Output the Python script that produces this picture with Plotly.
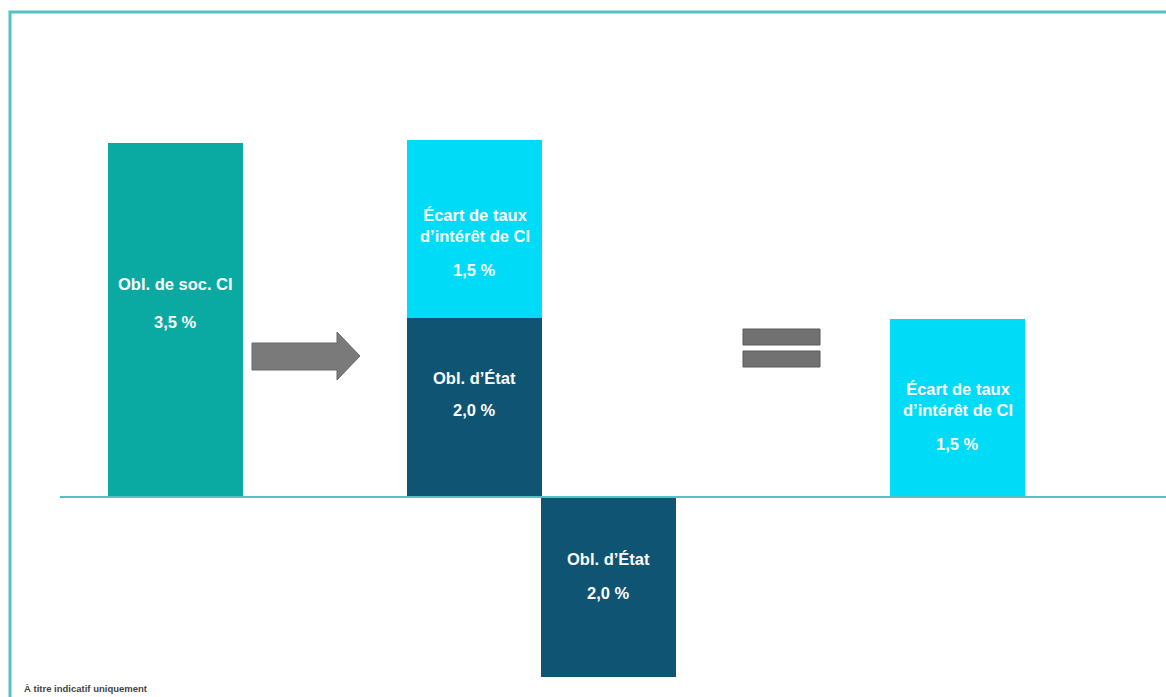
import plotly.graph_objects as go

# ---------------- data ----------------
labels_corp = ["Obl. de soc. CI"]
labels_gov = ["Obl. d’État", "Obl. d’État"]
labels_spread = ["Écart de taux<br>d’intérêt de CI", "Écart de taux<br>d’intérêt de CI"]

value_corp = [3.5]            # displayed percentages
value_gov = [2.0, 2.0]
value_spread = [1.5, 1.5]

# schematic bar heights as drawn in the picture (illustrative, not to scale)
height_corp = [3.5]
height_gov = [1.77, -1.78]
height_spread = [1.76, 1.76]

footnote = "À titre indicatif uniquement"

# ---------------- layout constants ----------------
W, H = 1166, 697
PX_X = 135.0          # px per x unit (= bar width)
PX_Y = 101.14         # px per y unit
BASE_PX = 497         # baseline pixel row
X0_PX = 175.5         # pixel column of first bar centre
XMIN = -X0_PX / PX_X
XMAX = XMIN + W / PX_X
YMAX = BASE_PX / PX_Y
YMIN = -(H - BASE_PX) / PX_Y

x_corp = [0.0]
x_gov = [2.215, 3.211]
x_spread = [2.215, 5.793]

C_TEAL = "#0aaaa2"
C_CYAN = "#00dcf8"
C_NAVY = "#0f5473"
C_GREY = "#7a7a7a"
C_FRAME = "#52c2c2"
FONT = "Liberation Sans, Arial, sans-serif"
FS = 16.5


def px(xp, yp):
    return xp / W, 1 - yp / H


def fmt(v):
    return f"{v:.1f} %".replace(".", ",")


fig = go.Figure()
fig.add_trace(go.Bar(x=x_corp, y=height_corp, base=[0], width=1,
                     marker=dict(color=C_TEAL, line=dict(width=0)), hoverinfo="skip"))
fig.add_trace(go.Bar(x=x_gov, y=height_gov, base=[0, 0], width=1,
                     marker=dict(color=C_NAVY, line=dict(width=0)), hoverinfo="skip"))
spread_base = [height_gov[0], 0]
fig.add_trace(go.Bar(x=x_spread, y=height_spread, base=spread_base, width=1,
                     marker=dict(color=C_CYAN, line=dict(width=0)), hoverinfo="skip"))

ann = []


def label(x, y_center_frac, base, height, name, value, gap):
    # place name + value inside bar
    yc = base + height * y_center_frac
    ann.append(dict(x=x, y=yc, xref="x", yref="y", text=f"<b>{name}</b>",
                    showarrow=False, font=dict(family=FONT, size=FS, color="white"),
                    xanchor="center", yanchor="middle"))
    ann.append(dict(x=x, y=yc - gap, xref="x", yref="y", text=f"<b>{fmt(value)}</b>",
                    showarrow=False, font=dict(family=FONT, size=FS, color="white"),
                    xanchor="center", yanchor="middle"))


# bar 1
label(x_corp[0], 0.602, 0, height_corp[0], labels_corp[0], value_corp[0], 0.376)
# bar 2 top (spread)
label(x_spread[0], 0.52, spread_base[0], height_spread[0], labels_spread[0], value_spread[0], 0.44)
# bar 2 bottom (gov)
label(x_gov[0], 0.665, 0, height_gov[0], labels_gov[0], value_gov[0], 0.316)
# bar 3 negative gov
label(x_gov[1], 0.344, 0, height_gov[1], labels_gov[1], value_gov[1], 0.336)
# bar 4 spread
label(x_spread[1], 0.545, spread_base[1], height_spread[1], labels_spread[1], value_spread[1], 0.435)

fx, fy = px(22, 688)
ann.append(dict(x=fx, y=fy, xref="paper", yref="paper", text=f"<b>{footnote}</b>",
                showarrow=False, xanchor="left", yanchor="middle",
                font=dict(family=FONT, size=9.5, color="#444444")))

shapes = []
# baseline
bx0, _ = px(60, 0)
shapes.append(dict(type="line", xref="paper", yref="y", x0=bx0, x1=1, y0=0, y1=0,
                   line=dict(color=C_FRAME, width=2), layer="above"))
# frame
f0x, f0y = px(10, 12)
shapes.append(dict(type="rect", xref="paper", yref="paper", x0=f0x, y0=-0.05, x1=1.05, y1=f0y,
                   line=dict(color=C_FRAME, width=3), fillcolor="rgba(0,0,0,0)"))
# arrow
pts = [(252, 343), (337, 343), (337, 332), (360, 356), (337, 380), (337, 370), (252, 370)]
path = "M " + " L ".join(f"{px(a, b)[0]:.5f},{px(a, b)[1]:.5f}" for a, b in pts) + " Z"
shapes.append(dict(type="path", xref="paper", yref="paper", path=path,
                   fillcolor=C_GREY, line=dict(color="#6a6a6a", width=1)))
# equals sign
for (y0p, y1p) in [(329, 345), (351, 367)]:
    ax0, ay0 = px(743, y0p)
    ax1, ay1 = px(820, y1p)
    shapes.append(dict(type="rect", xref="paper", yref="paper", x0=ax0, x1=ax1, y0=ay1, y1=ay0,
                       fillcolor="#717171", line=dict(color="#5a5a5a", width=1)))

fig.update_layout(
    width=W, height=H,
    margin=dict(l=0, r=0, t=0, b=0),
    paper_bgcolor="white", plot_bgcolor="white",
    barmode="overlay", bargap=0,
    showlegend=False,
    xaxis=dict(range=[XMIN, XMAX], visible=False, fixedrange=True),
    yaxis=dict(range=[YMIN, YMAX], visible=False, fixedrange=True),
    annotations=ann, shapes=shapes,
)

fig.write_html("out.html", config={"displayModeBar": False},
               post_script="document.body.style.margin='0';document.body.style.overflow='hidden';")
